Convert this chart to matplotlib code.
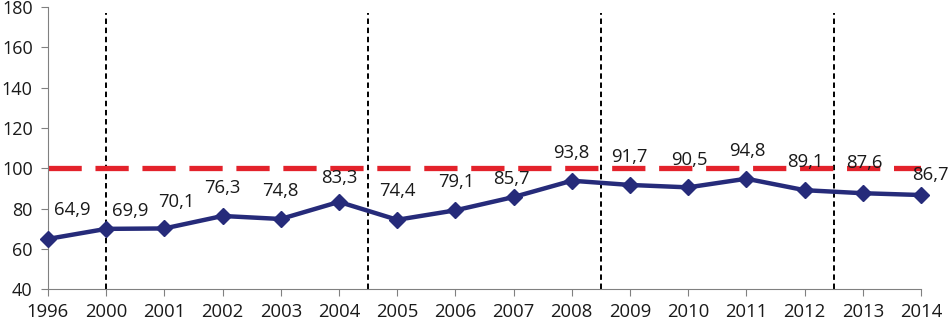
import numpy as np
import matplotlib.pyplot as plt

plt.rcParams['font.family'] = ['Open Sans', 'DejaVu Sans']

# DADOS
anos = ['1996', '2000', '2001', '2002', '2003', '2004', '2005', '2006', '2007',
        '2008', '2009', '2010', '2011', '2012', '2013', '2014']
valores = [64.9, 69.9, 70.1, 76.3, 74.8, 83.3, 74.4, 79.1, 85.7,
           93.8, 91.7, 90.5, 94.8, 89.1, 87.6, 86.7]
referencia = 100
divisoes = [1, 5.5, 9.5, 13.5]

# DESLOCAMENTO DOS ROTULOS EM PIXELS (X, Y)
desloc_x = [24, 24, 12, 0, 0, 0, 0, 1, -2, 0, -1, 1, 1, 1, 2, 9]
desloc_y = [29, 18, 26, 28, 28, 24, 29, 28, 18, 28, 28, 27, 28, 28, 30, 20]

x = np.arange(len(anos))

fig = plt.figure(figsize=(9.5, 3.23), dpi=100)
ax = fig.add_axes([0.0505, 0.105, 0.919, 0.873])

# LINHAS VERTICAIS TRACEJADAS
for d in divisoes:
    ax.plot([d, d], [40, 177], color='black', lw=1.4, ls=(0, (2.8, 1.9)), zorder=1)

# LINHA DE REFERENCIA
ax.plot([x[0], x[-1]], [referencia, referencia], color='#E3222B', lw=3.8,
        ls=(0, (6.3, 2.6)), zorder=2)

# SERIE PRINCIPAL
ax.plot(x, valores, color='#262B7A', lw=3.2, marker='D', markersize=8.5,
        zorder=3, clip_on=False)

# ROTULOS
for i, v in enumerate(valores):
    ax.annotate(f'{v:.1f}'.replace('.', ','), (x[i], v),
                xytext=(desloc_x[i], desloc_y[i]), textcoords='offset pixels',
                ha='center', va='center', fontsize=13.3, color='#1a1a1a',
                annotation_clip=False)

ax.set_xlim(0, 15)
ax.set_ylim(40, 180)
ax.set_yticks(range(40, 181, 20))
ax.set_xticks(x)
ax.set_xticklabels(anos)

for s in ['top', 'right']:
    ax.spines[s].set_visible(False)
for s in ['left', 'bottom']:
    ax.spines[s].set_color('#808080')
ax.tick_params(axis='both', colors='#808080', labelcolor='#1a1a1a',
               labelsize=13.3, length=5)
ax.tick_params(axis='x', pad=5)
ax.tick_params(axis='y', pad=6, labelsize=13)

plt.savefig('out.png', dpi=100)
